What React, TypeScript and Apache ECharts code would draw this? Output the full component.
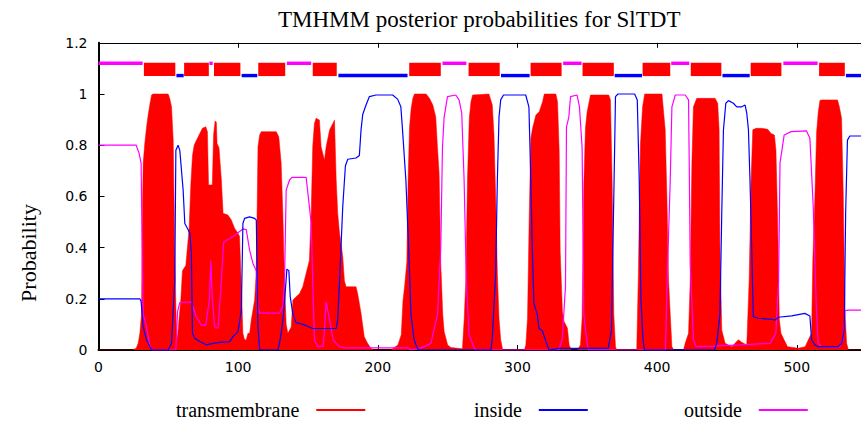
import React, { useEffect, useRef } from "react";
import * as echarts from "echarts";

const titleText = "TMHMM posterior probabilities for SlTDT";
const yAxisTitle = "Probability";
const seriesNames = ["transmembrane", "inside", "outside"];
const xMax = 546;

// posterior probability of transmembrane (red impulses), [residue, prob]
const transmembrane: number[][] = [
  [0,0],[24,0],[27,0.007],[28.4,0.026],[29.6,0.065],[30.8,0.14],[31.3,0.5],[32,0.73],[33.2,0.81],[34.4,0.87],[35.6,0.92],[36.8,0.96],[38,0.996],[39,1.0],[49.9,1.0],[51.1,0.98],[52.3,0.95],[53.5,0.82],[54.6,0.4],[55.6,0.12],[56.5,0.04],[57.7,0.124],[59,0.2],[60.1,0.31],[62.5,0.33],[64.9,0.475],[66.1,0.645],[67.3,0.76],[68.5,0.8],[69.7,0.814],[72,0.84],[74.4,0.866],[76.8,0.872],[78,0.853],[78.8,0.645],[81.5,0.645],[82.4,0.84],[83.5,0.895],[84.4,0.89],[84.9,0.807],[86.3,0.79],[88,0.664],[89.2,0.534],[92.7,0.527],[95.1,0.508],[97.5,0.475],[99.9,0.456],[101,0.443],[102.3,0.247],[103.4,0.065],[104.6,0.04],[105.8,0.04],[107,0.065],[108.2,0.065],[109.4,0.117],[110.6,0.156],[111.8,0.195],[113,0.31],[114.2,0.794],[115.4,0.84],[116.5,0.853],[127.3,0.853],[129.1,0.833],[130.8,0.73],[132,0.534],[133.2,0.27],[134.4,0.1],[135.6,0.065],[138,0.09],[139.2,0.195],[141.5,0.208],[143.9,0.22],[146.3,0.247],[148.7,0.3],[151,0.35],[152.3,0.534],[153.4,0.794],[154.6,0.885],[155.8,0.905],[158.2,0.898],[159.4,0.794],[161.8,0.742],[163,0.794],[165.5,0.86],[167.8,0.885],[169,0.898],[170.2,0.664],[171.3,0.534],[172.6,0.456],[174.9,0.365],[176.1,0.27],[177.3,0.247],[184.4,0.247],[185.6,0.22],[188,0.144],[190.3,0.052],[192.7,0.026],[195.1,0.007],[197,0],[209.6,0],[210.8,0.006],[214.4,0.02],[216.8,0.06],[218,0.19],[219.2,0.25],[220.8,0.345],[221.6,0.645],[222.7,0.87],[223.9,0.944],[225.1,0.983],[226.3,1.0],[234.6,1.0],[237,0.983],[239.4,0.957],[241.5,0.91],[242.7,0.794],[243.9,0.69],[245.1,0.338],[246.5,0.14],[247.5,0.072],[250,0.02],[252.3,0.01],[260.6,0.005],[261.9,0.124],[263,0.27],[264.2,0.664],[265.5,0.905],[266.7,0.97],[267.9,0.996],[279.6,1.0],[282,0.957],[283.2,0.84],[284.4,0.6],[285.6,0.3],[286.8,0.124],[288,0.04],[289.5,0],[305,0],[306,0.02],[307.2,0.124],[308.4,0.514],[309.6,0.827],[310.8,0.866],[313.2,0.918],[315.6,0.931],[318,0.97],[319.2,1.0],[327.5,1.0],[328.7,0.97],[329.9,0.775],[330.6,0.385],[332.2,0.15],[333.4,0.111],[335.8,0.085],[337,0.02],[338.5,0],[343,0],[345.1,0.02],[346.3,0.124],[347.5,0.645],[348.7,0.866],[349.9,0.931],[352.3,0.996],[365.4,0.996],[366.6,0.977],[367.8,0.664],[369,0.14],[370.2,0.013],[371,0],[385.4,0],[386.6,0.3],[388,0.8],[389.6,0.95],[391.1,1.0],[403.5,1.0],[405.8,0.86],[407,0.6],[408.2,0.27],[409.4,0.14],[410.6,0.013],[412,0],[418.9,0],[420.1,0.026],[422.5,0.065],[423.7,0.27],[424.9,0.73],[426,0.95],[428.4,0.983],[441.5,0.983],[443.4,0.964],[444.4,0.86],[445,0.404],[446.3,0.078],[448.7,0.026],[453.5,0.013],[455.8,0.026],[458.2,0.04],[460.6,0.03],[464.2,0.02],[465.9,0.27],[467.3,0.664],[468.5,0.86],[470.9,0.866],[474.9,0.866],[479.2,0.862],[481.6,0.846],[484,0.84],[485.1,0.78],[486.3,0.508],[487.5,0.12],[488.7,0.065],[491,0.039],[493.4,0.013],[501.2,0.007],[506,0.013],[508.3,0.04],[510.6,0.065],[511.5,0.35],[513,0.6],[514.2,0.85],[515.4,0.93],[516.6,0.975],[517.8,0.977],[529.2,0.977],[530.5,0.95],[532.1,0.905],[533.3,0.61],[534.5,0.156],[535.7,0.026],[537,0],[546,0]
];

// posterior probability of inside (blue line)
const inside: number[][] = [
  [0,0.2],[29.6,0.2],[30.5,0.19],[32,0.09],[34.4,0.04],[36.8,0.013],[38,0],[49.9,0],[52.3,0.026],[54.6,0.27],[55.4,0.78],[57,0.8],[58.2,0.78],[59.4,0.703],[60.6,0.625],[61.8,0.494],[64.2,0.47],[65.4,0.455],[66.5,0.378],[67.3,0.065],[69,0.046],[72.5,0.033],[77.3,0.02],[82,0.026],[86.8,0.03],[93.9,0.033],[96.3,0.052],[99.9,0.072],[102.3,0.156],[103.4,0.494],[104.6,0.514],[108.2,0.52],[111.8,0.514],[113,0.507],[114.2,0.09],[115.4,0],[128.4,0],[129.6,0.026],[130.8,0.065],[132.5,0.14],[133.9,0.24],[134.9,0.316],[136.3,0.31],[137.3,0.208],[139.2,0.14],[141.5,0.107],[146.3,0.1],[151,0.09],[153.4,0.084],[170.2,0.084],[171.3,0.117],[172.6,0.27],[174.9,0.56],[176.8,0.72],[178.5,0.745],[184.4,0.75],[186.8,0.76],[188,0.86],[189.2,0.92],[191.5,0.956],[194,0.99],[198.7,0.996],[210.6,0.996],[214.2,0.98],[216.5,0.95],[217.7,0.86],[220.1,0.664],[222.5,0.338],[223.7,0.14],[226,0.04],[228.4,0.006],[230,0],[281,0],[282,0.046],[284.4,0.3],[285.6,0.664],[286.8,0.91],[288,0.977],[290,0.996],[305.9,0.996],[308.2,0.95],[309.4,0.7],[310.6,0.4],[311.8,0.18],[314.2,0.14],[315.4,0.084],[317.8,0.075],[320.2,0.036],[322.6,0],[330,0.006],[365,0.006],[367.3,0.078],[369.2,0.664],[370.2,0.99],[372,1.0],[383.9,1.0],[385.8,0.977],[387.2,0.664],[388.4,0.2],[389.9,0.04],[391,0],[441,0],[442.7,0.026],[445,0.14],[446.3,0.534],[447.5,0.86],[449.2,0.964],[451.1,0.974],[454.6,0.964],[457,0.95],[460.6,0.95],[463,0.957],[464.2,0.925],[465.4,0.86],[466.5,0.664],[467.7,0.404],[468.9,0.13],[472.5,0.124],[482,0.12],[484.4,0.117],[486.8,0.128],[496.3,0.133],[505.8,0.143],[509.4,0.133],[510.6,0.04],[513,0.02],[515.4,0.013],[529.7,0.013],[532.1,0.026],[534,0.078],[535,0.534],[536.3,0.82],[538,0.836],[546,0.836]
];

// posterior probability of outside (magenta line)
const outside: number[][] = [
  [0,0.8],[27,0.8],[29,0.77],[30.5,0.73],[31.5,0.3],[32,0.14],[34,0.1],[37,0.01],[38,0],[55.4,0],[56.6,0.15],[58.2,0.185],[66.5,0.188],[70,0.13],[73.7,0.097],[76.8,0.097],[79.5,0.2],[80.4,0.35],[81.5,0.2],[83.2,0.09],[85.6,0.085],[88,0.273],[89.6,0.42],[92,0.43],[96.3,0.443],[103.4,0.473],[105.8,0.47],[108.2,0.39],[110.6,0.338],[113,0.31],[114.2,0.17],[115.4,0.144],[129.6,0.144],[132,0.17],[133.2,0.27],[134.4,0.625],[136.8,0.664],[138.5,0.674],[148.7,0.674],[151,0.56],[152.3,0.494],[153.4,0.27],[154.6,0.039],[157,0.013],[161,0.015],[163,0.188],[165.5,0.117],[168,0.04],[170.2,0.026],[172.6,0.013],[176,0.008],[222,0.008],[224,0],[232,0.01],[238,0.026],[242.8,0.14],[245.1,0.4],[246.3,0.79],[247.5,0.91],[249.9,0.99],[255.8,0.996],[258.2,0.977],[260.1,0.925],[261.8,0.664],[263.4,0.27],[265.3,0.06],[268.9,0.01],[270,0],[329.6,0],[332,0.04],[334.4,0.247],[335.1,0.872],[336.8,0.91],[338,0.99],[342.7,0.996],[344.4,0.95],[346.3,0.79],[347.5,0.14],[349.9,0.026],[351,0],[406,0],[407.2,0.27],[409.4,0.664],[410.6,0.95],[413,0.996],[420.1,0.996],[422.5,0.977],[423,0.73],[423.7,0.34],[426,0.04],[428,0.013],[440,0.015],[460,0.02],[481,0.026],[485,0.065],[487,0.27],[488,0.73],[491,0.84],[496,0.853],[506.9,0.856],[509.4,0.827],[511.8,0.56],[513,0.34],[514.2,0.14],[515.4,0.026],[517.8,0.013],[530.9,0.013],[533.3,0.05],[534.5,0.154],[536.9,0.156],[546,0.156]
];

// predicted topology (top track)
const tmHelices: number[][] = [
  [32.5,55],[61.3,79],[82.7,101.6],[114.4,133.7],[153.4,170.6],[222.5,245.1],[265,287.3],[309.4,331.6],[346.6,369],[389.6,409.4],[424.1,446],[467,489],[516,534.4]
];
const insideSegments: number[][] = [
  [55.8,61],[102.5,113.7],[171.8,221.3],[288.2,308.7],[369.6,389.2],[446.8,466.3],[535.2,546]
];
const outsideSegments: number[][] = [
  [0,31.6],[79.4,81.8],[134.9,152.3],[246.3,263.4],[332.7,345.9],[410.1,423],[490.4,514.9]
];

const RED = "#ff0000";
const BLUE = "#0000ff";
const MAGENTA = "#ff00ff";
const SERIF = "'Liberation Serif', 'Times New Roman', serif";
const SANS = "'DejaVu Sans', sans-serif";

export default function App() {
  const ref = useRef<HTMLDivElement>(null);
  useEffect(() => {
    if (!ref.current) return;
    const chart = echarts.init(ref.current, undefined, { renderer: "svg" });
    const trackData = [
      ...tmHelices.map((s) => [s[0], s[1], 0]),
      ...insideSegments.map((s) => [s[0], s[1], 1]),
      ...outsideSegments.map((s) => [s[0], s[1], 2]),
    ];
    const legendBase = (name: string, left: number) => ({
      data: [name],
      left,
      top: 400,
      padding: 0,
      align: "right",
      icon: "rect",
      itemWidth: 49,
      itemHeight: 2,
      selectedMode: false,
      textStyle: {
        fontFamily: SERIF,
        fontSize: 20,
        color: "#000",
        padding: [0, 12, 0, 0],
      },
    });
    const xCommon = {
      type: "value",
      min: 0,
      max: xMax,
      interval: 100,
      splitLine: { show: false },
    };
    chart.setOption({
      animation: false,
      backgroundColor: "#fff",
      title: {
        text: titleText,
        left: 278,
        top: 8,
        padding: 0,
        textStyle: { fontFamily: SERIF, fontSize: 23, fontWeight: "normal", color: "#000" },
      },
      legend: [
        legendBase(seriesNames[0], 176),
        legendBase(seriesNames[1], 474),
        legendBase(seriesNames[2], 684),
      ],
      grid: { left: 98.5, top: 42.8, width: xMax * 1.4, height: 307.2 },
      xAxis: [
        {
          ...xCommon,
          position: "bottom",
          axisLine: { show: true, lineStyle: { color: "#000", width: 2 } },
          axisTick: { show: true, inside: true, length: 5, lineStyle: { color: "#000", width: 1 } },
          axisLabel: {
            show: true,
            margin: 10,
            fontFamily: SANS,
            fontSize: 14,
            color: "#000",
            showMaxLabel: false,
            formatter: (v: number) => (v % 100 === 0 ? String(v) : ""),
          },
        },
        {
          ...xCommon,
          position: "top",
          axisLine: { show: true, lineStyle: { color: "#000", width: 1 } },
          axisTick: { show: true, inside: true, length: 5, lineStyle: { color: "#000", width: 1 } },
          axisLabel: { show: false },
        },
      ],
      yAxis: {
        type: "value",
        min: 0,
        max: 1.2,
        interval: 0.2,
        splitLine: { show: false },
        axisLine: { show: true, lineStyle: { color: "#000", width: 2 } },
        axisTick: { show: true, inside: true, length: 6, lineStyle: { color: "#000", width: 1 } },
        axisLabel: { margin: 11, fontFamily: SANS, fontSize: 14, color: "#000" },
      },
      graphic: [
        {
          type: "text",
          x: 28,
          y: 253,
          rotation: Math.PI / 2,
          style: {
            text: yAxisTitle,
            fontFamily: SERIF,
            fontSize: 22,
            fill: "#000",
            align: "center",
            verticalAlign: "middle",
          },
        },
      ],
      series: [
        {
          name: seriesNames[0],
          type: "line",
          data: transmembrane,
          symbol: "none",
          color: RED,
          lineStyle: { width: 0.5, color: RED },
          areaStyle: { color: RED, opacity: 1 },
          z: 1,
        },
        {
          name: seriesNames[1],
          type: "line",
          data: inside,
          symbol: "none",
          color: BLUE,
          lineStyle: { width: 1.2, color: BLUE },
          z: 3,
        },
        {
          name: seriesNames[2],
          type: "line",
          data: outside,
          symbol: "none",
          color: MAGENTA,
          lineStyle: { width: 1.2, color: MAGENTA },
          z: 2,
        },
        {
          name: "topology",
          type: "custom",
          data: trackData,
          encode: { x: [0, 1] },
          z: 4,
          renderItem: (_params: any, api: any) => {
            const s = api.value(0);
            const e = api.value(1);
            const k = api.value(2);
            if (k === 0) {
              const p1 = api.coord([s, 1.122]);
              const p2 = api.coord([e, 1.07]);
              return {
                type: "rect",
                shape: { x: p1[0], y: p1[1], width: p2[0] - p1[0], height: p2[1] - p1[1] },
                style: { fill: RED },
              };
            }
            const yv = k === 1 ? 1.072 : 1.12;
            const a = api.coord([s, yv]);
            const b = api.coord([e, yv]);
            return {
              type: "line",
              shape: { x1: a[0], y1: a[1], x2: b[0], y2: b[1] },
              style: { stroke: k === 1 ? BLUE : MAGENTA, lineWidth: 3.4 },
            };
          },
        },
      ],
    });
    return () => chart.dispose();
  }, []);
  return (
    <div
      ref={ref}
      style={{ position: "fixed", left: 0, top: 0, width: 861, height: 427, background: "#fff" }}
    />
  );
}
